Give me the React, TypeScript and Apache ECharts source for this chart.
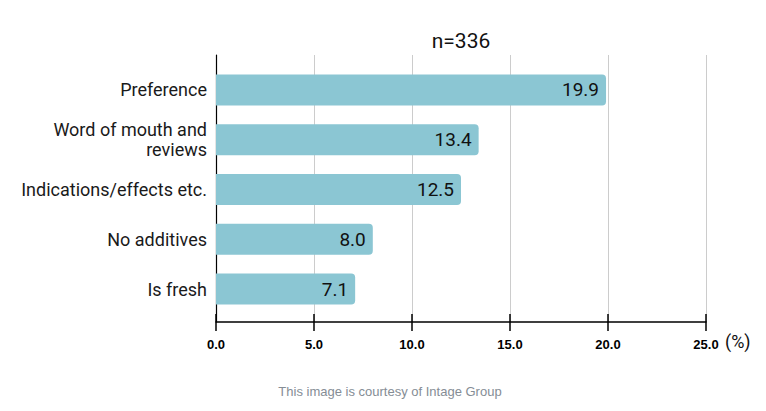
import React, { useEffect, useRef } from "react";
import * as echarts from "echarts";

const categories = [
  "Preference",
  "Word of mouth and\nreviews",
  "Indications/effects etc.",
  "No additives",
  "Is fresh",
];
const values = [19.9, 13.4, 12.5, 8.0, 7.1];
const axisMin = 0;
const axisMax = 25;
const axisInterval = 5;
const titleText = "n=336";
const unitText = "(%)";
const footerText = "This image is courtesy of Intage Group";

const SANS = "'Liberation Sans', Arial, sans-serif";
const MAIN = "Roboto, 'Noto Sans', sans-serif";

export default function App() {
  const ref = useRef<HTMLDivElement>(null);
  useEffect(() => {
    if (!ref.current) return;
    const chart = echarts.init(ref.current, null, { renderer: "svg" });
    const fmt = (v: number) => Number(v).toFixed(1);
    chart.setOption({
      animation: false,
      backgroundColor: "#ffffff",
      grid: [
        { left: 216, width: 490, top: 55, height: 267 },
        { left: 216, width: 490, top: 65, height: 249 },
      ],
      xAxis: [
        {
          gridIndex: 0,
          type: "value",
          min: axisMin,
          max: axisMax,
          interval: axisInterval,
          position: "bottom",
          axisLine: { show: true, lineStyle: { color: "#000", width: 1.5 } },
          axisTick: { show: true, length: 9, lineStyle: { color: "#000", width: 1.5 } },
          splitLine: { show: true, lineStyle: { color: "#cccccc", width: 1 } },
          axisLabel: {
            show: true,
            formatter: fmt,
            margin: 16,
            color: "#000",
            fontSize: 13,
            fontWeight: "bold",
            fontFamily: SANS,
          },
        },
        {
          gridIndex: 0,
          type: "value",
          min: axisMin,
          max: axisMax,
          interval: axisInterval,
          position: "bottom",
          offset: 0,
          axisLine: { show: false },
          axisTick: { show: true, inside: true, length: 8, lineStyle: { color: "#000", width: 1.5 } },
          splitLine: { show: false },
          axisLabel: { show: false },
        },
        {
          gridIndex: 1,
          type: "value",
          min: axisMin,
          max: axisMax,
          show: false,
        },
      ],
      yAxis: [
        {
          gridIndex: 0,
          type: "value",
          min: 0,
          max: 1,
          axisLine: { show: true, lineStyle: { color: "#000", width: 1.2 } },
          axisTick: { show: false },
          axisLabel: { show: false },
          splitLine: { show: false },
        },
        {
          gridIndex: 1,
          type: "category",
          data: categories,
          inverse: true,
          axisLine: { show: false },
          axisTick: { show: false },
          axisLabel: {
            margin: 9,
            color: "#1a1a1a",
            fontSize: 18,
            lineHeight: 20,
            fontFamily: MAIN,
            align: "right",
          },
        },
      ],
      series: [
        {
          type: "bar",
          xAxisIndex: 2,
          yAxisIndex: 1,
          data: values,
          barWidth: 31,
          itemStyle: { color: "#8bc6d3", borderRadius: [0, 4, 4, 0] },
          label: {
            show: true,
            position: "insideRight",
            distance: 7,
            formatter: (p: any) => fmt(p.value),
            color: "#111",
            fontSize: 19,
            fontFamily: MAIN,
          },
        },
      ],
      graphic: [
        {
          type: "text",
          x: 461,
          y: 41,
          style: {
            text: titleText,
            align: "center",
            verticalAlign: "middle",
            fontSize: 21,
            fontFamily: MAIN,
            fill: "#111",
          },
        },
        {
          type: "text",
          x: 725,
          y: 341,
          style: {
            text: unitText,
            align: "left",
            verticalAlign: "middle",
            fontSize: 18,
            fontFamily: MAIN,
            fill: "#111",
          },
        },
        {
          type: "text",
          x: 390,
          y: 391,
          style: {
            text: footerText,
            align: "center",
            verticalAlign: "middle",
            fontSize: 13,
            fontFamily: SANS,
            fill: "#858d95",
          },
        },
      ],
    });
    return () => chart.dispose();
  }, []);
  return (
    <div
      ref={ref}
      style={{ position: "absolute", left: 0, top: 0, width: 766, height: 411, background: "#fff" }}
    />
  );
}
